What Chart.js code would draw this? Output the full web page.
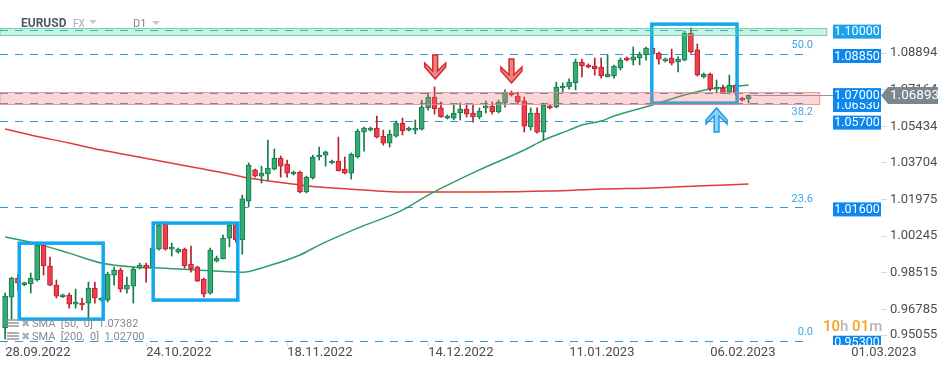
<!DOCTYPE html>
<html>
<head>
<meta charset="utf-8">
<title>EURUSD D1</title>
<script src="https://cdn.jsdelivr.net/npm/chart.js@4.4.1/dist/chart.umd.min.js"></script>
<style>
  html, body { margin: 0; padding: 0; background: #fff; }
  #wrap { width: 949px; height: 370px; }
</style>
</head>
<body>
<div id="wrap"><canvas id="chart" width="949" height="370"></canvas></div>
<script>
// x axis: one candle per index, a date label every 22 candles
var dateLabels = ['28.09.2022', '24.10.2022', '18.11.2022', '14.12.2022', '11.01.2023', '06.02.2023', '01.03.2023'];
var dateIdx = [0, 22, 44, 66, 88, 110, 132];
var yTicks = [0.95055, 0.96785, 0.98515, 1.00245, 1.01975, 1.03704, 1.05434, 1.07164, 1.08894];

// daily candles
var opens = [
    0.9590, 0.9736, 0.9826, 0.9795, 0.9798, 0.9817, 0.9982, 0.9883, 0.9793, 0.9738,
    0.9746, 0.9703, 0.9708, 0.9708, 0.9779, 0.9722, 0.9722, 0.9840, 0.9864, 0.9774,
    0.9788, 0.9873, 0.9887, 0.9873, 0.9963, 1.0080, 0.9963, 0.9949, 0.9963, 0.9892,
    0.9878, 0.9821, 0.9755, 0.9906, 0.9916, 1.0015, 1.0077, 1.0006, 1.0190, 1.0337,
    1.0308, 1.0318, 1.0341, 1.0393, 1.0365, 1.0318, 1.0327, 1.0233, 1.0299, 1.0398,
    1.0407, 1.0370, 1.0379, 1.0341, 1.0322, 1.0398, 1.0516, 1.0525, 1.0535, 1.0497,
    1.0464, 1.0497, 1.0559, 1.0525, 1.0525, 1.0530, 1.0630, 1.0681, 1.0630, 1.0582,
    1.0582, 1.0606, 1.0625, 1.0606, 1.0587, 1.0630, 1.0639, 1.0611, 1.0653, 1.0700,
    1.0686, 1.0663, 1.0540, 1.0606, 1.0516, 1.0639, 1.0634, 1.0724, 1.0729, 1.0748,
    1.0847, 1.0833, 1.0828, 1.0823, 1.0776, 1.0781, 1.0819, 1.0866, 1.0856, 1.0866,
    1.0880, 1.0913, 1.0889, 1.0852, 1.0866, 1.0847, 1.0856, 1.0984, 1.0904, 1.0776,
    1.0790, 1.0719, 1.0724, 1.0705, 1.0738, 1.0677, 1.0672
];
var highs = [
    0.9755, 0.9830, 0.9845, 0.9807, 0.9850, 0.9996, 0.9985, 0.9925, 0.9817, 0.9750,
    0.9755, 0.9774, 0.9732, 0.9807, 0.9807, 0.9732, 0.9854, 0.9878, 0.9873, 0.9831,
    0.9878, 0.9897, 0.9897, 0.9977, 1.0091, 1.0091, 0.9991, 0.9968, 0.9968, 0.9977,
    0.9883, 0.9826, 0.9968, 0.9930, 1.0029, 1.0091, 1.0086, 1.0218, 1.0370, 1.0341,
    1.0355, 1.0478, 1.0436, 1.0403, 1.0384, 1.0332, 1.0332, 1.0308, 1.0407, 1.0445,
    1.0426, 1.0384, 1.0492, 1.0398, 1.0417, 1.0530, 1.0540, 1.0540, 1.0592, 1.0525,
    1.0525, 1.0568, 1.0582, 1.0540, 1.0573, 1.0667, 1.0700, 1.0729, 1.0658, 1.0597,
    1.0644, 1.0653, 1.0644, 1.0644, 1.0630, 1.0663, 1.0658, 1.0667, 1.0715, 1.0710,
    1.0705, 1.0681, 1.0630, 1.0630, 1.0653, 1.0644, 1.0752, 1.0748, 1.0767, 1.0861,
    1.0861, 1.0838, 1.0866, 1.0866, 1.0880, 1.0833, 1.0866, 1.0871, 1.0918, 1.0894,
    1.0918, 1.0918, 1.0894, 1.0866, 1.0908, 1.0871, 1.0993, 1.1008, 1.0932, 1.0795,
    1.0795, 1.0762, 1.0738, 1.0785, 1.0743, 1.0681, 1.0691
];
var lows = [
    0.9538, 0.9632, 0.9769, 0.9790, 0.9755, 0.9812, 0.9840, 0.9790, 0.9732, 0.9734,
    0.9684, 0.9684, 0.9675, 0.9637, 0.9708, 0.9718, 0.9713, 0.9793, 0.9760, 0.9755,
    0.9708, 0.9869, 0.9807, 0.9869, 0.9958, 0.9958, 0.9930, 0.9944, 0.9873, 0.9854,
    0.9810, 0.9736, 0.9750, 0.9902, 0.9916, 0.9973, 0.9996, 0.9939, 1.0162, 1.0303,
    1.0275, 1.0289, 1.0337, 1.0303, 1.0303, 1.0313, 1.0228, 1.0228, 1.0294, 1.0384,
    1.0355, 1.0365, 1.0332, 1.0318, 1.0294, 1.0393, 1.0426, 1.0521, 1.0488, 1.0454,
    1.0445, 1.0492, 1.0502, 1.0521, 1.0507, 1.0525, 1.0620, 1.0601, 1.0585, 1.0578,
    1.0573, 1.0573, 1.0587, 1.0563, 1.0578, 1.0606, 1.0601, 1.0606, 1.0634, 1.0686,
    1.0653, 1.0516, 1.0525, 1.0511, 1.0478, 1.0625, 1.0630, 1.0705, 1.0719, 1.0715,
    1.0776, 1.0819, 1.0785, 1.0771, 1.0776, 1.0771, 1.0809, 1.0852, 1.0833, 1.0833,
    1.0856, 1.0876, 1.0837, 1.0847, 1.0833, 1.0800, 1.0852, 1.0889, 1.0781, 1.0771,
    1.0710, 1.0700, 1.0700, 1.0696, 1.0691, 1.0663, 1.0653
];
var closes = [
    0.9741, 0.9826, 0.9802, 0.9803, 0.9826, 0.9982, 0.9883, 0.9793, 0.9741, 0.9746,
    0.9703, 0.9713, 0.9699, 0.9779, 0.9732, 0.9727, 0.9845, 0.9864, 0.9774, 0.9793,
    0.9869, 0.9887, 0.9873, 0.9968, 1.0077, 0.9963, 0.9973, 0.9963, 0.9883, 0.9869,
    0.9812, 0.9750, 0.9958, 0.9921, 1.0015, 1.0077, 1.0006, 1.0200, 1.0360, 1.0308,
    1.0322, 1.0346, 1.0393, 1.0355, 1.0322, 1.0327, 1.0233, 1.0303, 1.0398, 1.0407,
    1.0422, 1.0379, 1.0332, 1.0322, 1.0412, 1.0521, 1.0535, 1.0535, 1.0492, 1.0464,
    1.0507, 1.0559, 1.0521, 1.0535, 1.0535, 1.0634, 1.0681, 1.0625, 1.0587, 1.0592,
    1.0606, 1.0625, 1.0601, 1.0587, 1.0615, 1.0639, 1.0611, 1.0658, 1.0705, 1.0691,
    1.0658, 1.0544, 1.0606, 1.0516, 1.0644, 1.0630, 1.0729, 1.0733, 1.0752, 1.0847,
    1.0828, 1.0823, 1.0814, 1.0781, 1.0790, 1.0828, 1.0856, 1.0856, 1.0871, 1.0885,
    1.0913, 1.0885, 1.0861, 1.0861, 1.0842, 1.0861, 1.0984, 1.0894, 1.0785, 1.0790,
    1.0719, 1.0729, 1.0705, 1.0738, 1.0700, 1.0667, 1.0689
];

// moving averages, sampled at these candle indices
var sma50Idx = [0, 4, 10, 15, 20, 25, 30, 37, 41, 46, 49, 55, 62, 66, 74, 81, 84, 88, 90, 93, 95, 101, 106, 110, 114, 116];
var sma50 = [1.0020, 0.9996, 0.9944, 0.9897, 0.9878, 0.9873, 0.9864, 0.9854, 0.9883, 0.9935, 0.9982, 1.0062, 1.0147,
    1.0218, 1.0337, 1.0431, 1.0478, 1.0525, 1.0549, 1.0568, 1.0592, 1.0644, 1.0691, 1.0719, 1.0733, 1.0738];
var sma200Idx = [0, 4, 10, 15, 20, 25, 30, 35, 38, 46, 49, 56, 61, 74, 85, 93, 101, 108, 116];
var sma200 = [1.0530, 1.0502, 1.0464, 1.0431, 1.0403, 1.0374, 1.0346, 1.0318, 1.0299, 1.0266, 1.0256, 1.0242, 1.0233,
    1.0233, 1.0237, 1.0247, 1.0252, 1.0261, 1.0270];

// horizontal levels (ascending), fibo labels, zones
var levels = [0.9530, 1.0160, 1.0570, 1.0653, 1.0700, 1.0885, 1.1000];
var fibLevels = [1.0885, 1.0570, 1.0160, 0.9530];
var fibTexts = ['50.0', '38.2', '23.6', '0.0'];
var lastPrice = 1.06893;

// drawings: [fromIdx, toIdx, top, bottom]
var zones = [[-1, 128.2, 1.1008, 1.0975], [-1, 127.1, 1.0705, 1.0648]];
var boxes = [[2.2, 15.3, 0.9991, 0.9632], [23.1, 36.3, 1.0086, 0.9722], [100.9, 114.2, 1.1026, 1.0653]];
var downArrows = [[67.1, 1.0767], [79, 1.0748]];
var upArrows = [[111, 1.0630]];

var GREEN = '#33ad74', GREEN_LINE = '#17784a', RED = '#f23d4d', RED_LINE = '#b81f2c';

function isUp(i) { return closes[i] >= opens[i]; }

function drawArrow(ctx, x, y, dir, fill, stroke) {
    var p = [[0, 0], [10.5, -12], [10.5, -16], [2.4, -8], [2.4, -24], [-2.4, -24], [-2.4, -8], [-10.5, -16], [-10.5, -12]];
    ctx.beginPath();
    p.forEach(function(q, k) {
        var px = x + q[0], py = y + q[1] * dir;
        if (k) ctx.lineTo(px, py); else ctx.moveTo(px, py);
    });
    ctx.closePath();
    ctx.fillStyle = fill;
    ctx.fill();
    ctx.lineWidth = 1.5;
    ctx.strokeStyle = stroke;
    ctx.stroke();
}

var overlay = {
    id: 'overlay',
    beforeDatasetsDraw: function(chart) {
        var ctx = chart.ctx, sx = chart.scales.x, sy = chart.scales.y, area = chart.chartArea;
        ctx.save();
        // dashed levels
        ctx.setLineDash([8, 7]);
        ctx.lineWidth = 1;
        ctx.strokeStyle = '#2a9be0';
        levels.forEach(function(v) {
            var y = Math.round(sy.getPixelForValue(v)) + 0.5;
            ctx.beginPath();
            ctx.moveTo(area.left, y);
            ctx.lineTo(sx.getPixelForValue(125.6), y);
            ctx.stroke();
        });
        ctx.restore();
    },
    afterDatasetsDraw: function(chart) {
        var ctx = chart.ctx, sx = chart.scales.x, sy = chart.scales.y, area = chart.chartArea;
        ctx.save();
        // current price line
        var py = Math.round(sy.getPixelForValue(lastPrice)) + 0.5;
        ctx.strokeStyle = '#8c979c';
        ctx.lineWidth = 1;
        ctx.beginPath();
        ctx.moveTo(sx.getPixelForValue(opens.length - 1) + 4, py);
        ctx.lineTo(area.right, py);
        ctx.stroke();

        // blue rectangles
        ctx.strokeStyle = '#12a8f0';
        ctx.lineWidth = 3.5;
        boxes.forEach(function(b) {
            var x1 = sx.getPixelForValue(b[0]), x2 = sx.getPixelForValue(b[1]);
            var y1 = sy.getPixelForValue(b[2]), y2 = sy.getPixelForValue(b[3]);
            ctx.strokeRect(x1, y1, x2 - x1, y2 - y1);
        });

        // zones
        var zoneFill = ['rgba(90,215,165,0.32)', 'rgba(242,120,120,0.30)'];
        var zoneLine = ['rgba(70,200,150,0.75)', 'rgba(240,130,130,0.8)'];
        zones.forEach(function(z, k) {
            var x1 = area.left, x2 = sx.getPixelForValue(z[1]);
            var y1 = Math.round(sy.getPixelForValue(z[2])) + 0.5, y2 = Math.round(sy.getPixelForValue(z[3])) + 0.5;
            ctx.fillStyle = zoneFill[k];
            ctx.fillRect(x1, y1, x2 - x1, y2 - y1);
            ctx.strokeStyle = zoneLine[k];
            ctx.lineWidth = 1;
            ctx.strokeRect(x1, y1, x2 - x1, y2 - y1);
        });

        // arrows
        downArrows.forEach(function(a) {
            drawArrow(ctx, sx.getPixelForValue(a[0]), sy.getPixelForValue(a[1]), 1, 'rgba(236,110,110,0.85)', '#d42a2a');
        });
        upArrows.forEach(function(a) {
            drawArrow(ctx, sx.getPixelForValue(a[0]), sy.getPixelForValue(a[1]), -1, 'rgba(130,205,245,0.9)', '#1d9be6');
        });
        ctx.restore();
    },
    afterDraw: function(chart) {
        var ctx = chart.ctx, sy = chart.scales.y, area = chart.chartArea;
        ctx.save();
        ctx.textBaseline = 'alphabetic';

        // fibo percentages
        ctx.font = '11px Roboto';
        ctx.fillStyle = '#39a6e6';
        ctx.textAlign = 'right';
        fibLevels.forEach(function(v, k) {
            ctx.fillText(fibTexts[k], 813, sy.getPixelForValue(v) - 5.5);
        });

        // level price boxes
        ctx.font = '12.5px Roboto';
        ctx.textAlign = 'center';
        ctx.textBaseline = 'middle';
        levels.forEach(function(v) {
            var y = sy.getPixelForValue(v) + 2;
            var top = y - 7, bottom = Math.min(y + 7, area.bottom + 3);
            ctx.fillStyle = v === 1.1 ? '#19a2ea' : '#0b87ee';
            ctx.fillRect(833, top, 48, bottom - top);
            ctx.fillStyle = '#ffffff';
            ctx.fillText(v.toFixed(5), 857, y + 0.5);
        });

        // current price tag
        var ty = sy.getPixelForValue(lastPrice);
        ctx.fillStyle = '#7b878c';
        ctx.beginPath();
        ctx.moveTo(881, ty);
        ctx.lineTo(888, ty - 8.5);
        ctx.lineTo(938, ty - 8.5);
        ctx.lineTo(938, ty + 8.5);
        ctx.lineTo(888, ty + 8.5);
        ctx.closePath();
        ctx.fill();
        ctx.fillStyle = '#ffffff';
        ctx.font = '13.5px Roboto';
        ctx.textAlign = 'left';
        ctx.fillText(lastPrice.toFixed(5), 890, ty + 0.5);

        // header
        ctx.textBaseline = 'alphabetic';
        ctx.font = 'bold 12px Roboto';
        ctx.fillStyle = '#4f5a60';
        ctx.fillText('EURUSD', 21, 27);
        ctx.font = '10px Roboto';
        ctx.fillStyle = '#a3abb0';
        ctx.fillText('FX', 73, 27);
        ctx.font = '11px Roboto';
        ctx.fillStyle = '#7c858a';
        ctx.fillText('D1', 133, 27);
        ctx.fillStyle = '#c3c8cb';
        [[89, 20], [152, 21]].forEach(function(t) {
            ctx.beginPath();
            ctx.moveTo(t[0], t[1]);
            ctx.lineTo(t[0] + 8, t[1]);
            ctx.lineTo(t[0] + 4, t[1] + 4);
            ctx.closePath();
            ctx.fill();
        });

        // indicator legend
        ctx.font = '11px Roboto';
        [['SMA  [50,  0]  1.07382', 327], ['SMA  [200,  0]  1.02700', 340]].forEach(function(l) {
            ctx.fillStyle = 'rgba(150,150,150,0.75)';
            ctx.fillRect(7, l[1] - 8, 12, 2);
            ctx.fillRect(7, l[1] - 5, 12, 2);
            ctx.fillRect(7, l[1] - 2, 12, 2);
            ctx.fillText('\u2716', 21, l[1]);
            ctx.fillStyle = '#8a8a8a';
            ctx.fillText(l[0], 32, l[1]);
        });

        // candle timer
        ctx.font = '500 15px Roboto';
        var x = 823;
        [['10', '#f5a122'], ['h ', '#b5b5b5'], ['01', '#f5a122'], ['m', '#b5b5b5']].forEach(function(p) {
            ctx.fillStyle = p[1];
            ctx.fillText(p[0], x, 331);
            x += ctx.measureText(p[0]).width;
        });
        ctx.restore();
    }
};

Chart.defaults.font.family = 'Roboto, "Open Sans", sans-serif';

var wickData = [], bodyData = [], wickColors = [], bodyColors = [], bodyLines = [];
for (var i = 0; i < opens.length; i++) {
    wickData.push({ x: i, y: [lows[i], highs[i]] });
    bodyData.push({ x: i, y: [opens[i], closes[i]] });
    wickColors.push(isUp(i) ? GREEN_LINE : RED_LINE);
    bodyColors.push(isUp(i) ? GREEN : RED);
    bodyLines.push(isUp(i) ? GREEN_LINE : RED_LINE);
}

new Chart(document.getElementById('chart'), {
    type: 'bar',
    data: {
        datasets: [{
            type: 'line',
            label: 'SMA 200',
            data: sma200Idx.map(function(x, k) { return { x: x, y: sma200[k] }; }),
            borderColor: '#e2393b',
            borderWidth: 1.5,
            pointRadius: 0,
            cubicInterpolationMode: 'monotone',
            order: 4
        }, {
            type: 'line',
            label: 'SMA 50',
            data: sma50Idx.map(function(x, k) { return { x: x, y: sma50[k] }; }),
            borderColor: '#2e9d6c',
            borderWidth: 1.5,
            pointRadius: 0,
            cubicInterpolationMode: 'monotone',
            order: 3
        }, {
            label: 'wicks',
            data: wickData,
            backgroundColor: wickColors,
            barThickness: 1,
            grouped: false,
            order: 2
        }, {
            label: 'bodies',
            data: bodyData,
            backgroundColor: bodyColors,
            borderColor: bodyLines,
            borderWidth: 1,
            borderSkipped: false,
            barThickness: 5,
            minBarLength: 2,
            grouped: false,
            order: 1
        }]
    },
    options: {
        responsive: false,
        animation: false,
        layout: { padding: 0 },
        plugins: { legend: { display: false }, tooltip: { enabled: false } },
        scales: {
            x: {
                type: 'linear',
                min: -0.8,
                max: 136.66,
                offset: false,
                afterBuildTicks: function(s) {
                    s.ticks = dateIdx.map(function(v) { return { value: v }; });
                },
                afterFit: function(s) {
                    s.height = 28;
                    s.paddingLeft = 0;
                    s.paddingRight = 0;
                },
                grid: { drawOnChartArea: false, offset: false, tickLength: 4, color: '#dcdcdc' },
                border: { display: false },
                ticks: {
                    align: 'start',
                    autoSkip: false,
                    maxRotation: 0,
                    padding: -1,
                    color: '#4d4d4d',
                    font: { size: 13 },
                    callback: function(v, k) { return dateLabels[k]; }
                }
            },
            y: {
                position: 'right',
                min: 0.9524,
                max: 1.1140,
                afterBuildTicks: function(s) {
                    var pad = (s.max - s.min) * 7 / 342;
                    s.ticks = yTicks.map(function(v) { return { value: Math.max(v, s.min + pad) }; });
                },
                afterFit: function(s) {
                    s.width = 68;
                    s.paddingTop = 0;
                    s.paddingBottom = 0;
                },
                grid: { drawOnChartArea: false, tickLength: 6, color: '#d8d8d8' },
                border: { display: false },
                ticks: {
                    padding: 3,
                    color: '#4d4d4d',
                    font: { size: 13 },
                    autoSkip: false,
                    callback: function(v, k) { return yTicks[k].toFixed(5); }
                }
            }
        }
    },
    plugins: [overlay]
});
</script>
</body>
</html>
